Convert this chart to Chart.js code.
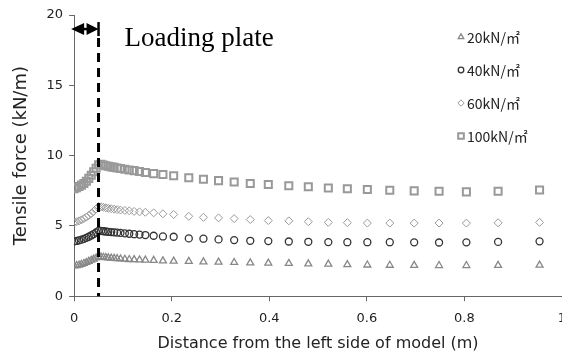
<!DOCTYPE html>
<html>
<head>
<meta charset="utf-8">
<script src="https://cdn.jsdelivr.net/npm/chart.js@4.4.0/dist/chart.umd.min.js"></script>
<style>
  html, body { margin: 0; padding: 0; background: #fff; overflow: hidden; }
  #wrap { width: 562px; height: 362px; position: relative; }
</style>
</head>
<body>
<div id="wrap"><canvas id="chart"></canvas></div>
<script>
// distance from left side of model (m)
const distance = [
  0, 0.005, 0.01, 0.015, 0.02, 0.025, 0.03, 0.035, 0.04, 0.045, 0.05,
  0.055, 0.06, 0.065, 0.07, 0.076, 0.082, 0.088, 0.095, 0.104, 0.113, 0.123, 0.134, 0.146,
  0.163, 0.182, 0.204, 0.235, 0.265, 0.296, 0.328, 0.361, 0.398, 0.44,
  0.48, 0.521, 0.56, 0.601, 0.647, 0.697, 0.748, 0.804, 0.869, 0.954
];

// tensile force (kN/m) for each load
const force20 = [
  2.15, 2.18, 2.22, 2.27, 2.33, 2.4, 2.48, 2.56, 2.64, 2.72, 2.8,
  2.79, 2.77, 2.75, 2.73, 2.71, 2.69, 2.67, 2.65, 2.63, 2.61, 2.6, 2.58, 2.57,
  2.55, 2.51, 2.5, 2.48, 2.44, 2.42, 2.4, 2.37, 2.35, 2.33,
  2.3, 2.28, 2.25, 2.22, 2.2, 2.19, 2.18, 2.18, 2.19, 2.21
];
const force40 = [
  3.9, 3.93, 3.97, 4.02, 4.08, 4.15, 4.23, 4.32, 4.42, 4.53, 4.65,
  4.64, 4.62, 4.6, 4.58, 4.56, 4.54, 4.52, 4.5, 4.47, 4.44, 4.41, 4.38, 4.35,
  4.3, 4.25, 4.23, 4.11, 4.09, 4.04, 3.99, 3.94, 3.92, 3.89,
  3.87, 3.85, 3.84, 3.84, 3.84, 3.83, 3.82, 3.83, 3.86, 3.9
];
const force60 = [
  5.25, 5.3, 5.36, 5.43, 5.52, 5.62, 5.74, 5.88, 6.04, 6.2, 6.38,
  6.36, 6.32, 6.29, 6.25, 6.22, 6.19, 6.16, 6.13, 6.1, 6.07, 6.03, 6.0, 5.97,
  5.93, 5.86, 5.81, 5.68, 5.61, 5.57, 5.52, 5.45, 5.38, 5.36,
  5.3, 5.25, 5.23, 5.2, 5.2, 5.2, 5.2, 5.2, 5.22, 5.25
];
const force100 = [
  7.65, 7.72, 7.8, 7.9, 8.02, 8.18, 8.38, 8.6, 8.85, 9.1, 9.35,
  9.38, 9.33, 9.28, 9.24, 9.2, 9.16, 9.12, 9.08, 9.03, 8.98, 8.93, 8.87, 8.8,
  8.72, 8.65, 8.57, 8.42, 8.32, 8.22, 8.12, 8.02, 7.95, 7.86,
  7.78, 7.7, 7.64, 7.59, 7.54, 7.49, 7.46, 7.42, 7.46, 7.55
];

const loadLabels = ["20kN/㎡", "40kN/㎡", "60kN/㎡", "100kN/㎡"];
const xTicks = [0, 0.2, 0.4, 0.6, 0.8, 1];
const yTicks = [0, 5, 10, 15, 20];

const plateEdge = 0.05;   // end of loading plate (m)
const arrowLevel = 19;    // height of the plate arrow (kN/m)

const toPoints = (ys) => distance.map((x, i) => ({ x: x, y: ys[i] }));

const styles = [
  { pointStyle: "triangle", radius: 4, color: "#888", width: 1.3 },
  { pointStyle: "circle", radius: 3.5, color: "#333", width: 1.3 },
  { pointStyle: "rectRot", radius: 4, color: "#999", width: 1 },
  { pointStyle: "rect", radius: 5, color: "#999", width: 2 },
];
const series = [force20, force40, force60, force100];

const datasets = series.map((ys, i) => ({
  label: loadLabels[i],
  data: toPoints(ys),
  showLine: false,
  pointStyle: styles[i].pointStyle,
  pointRadius: styles[i].radius,
  pointBorderColor: styles[i].color,
  pointBackgroundColor: "rgba(255,255,255,0)",
  pointBorderWidth: styles[i].width,
}));

// loading plate marker + legend drawn on top
const overlay = {
  id: "overlay",
  afterDatasetsDraw(chart) {
    const ctx = chart.ctx;
    const xs = chart.scales.x;
    const ys = chart.scales.y;
    const x0 = xs.getPixelForValue(0);
    const x1 = xs.getPixelForValue(plateEdge);
    const ya = ys.getPixelForValue(arrowLevel);
    const bottom = chart.chartArea.bottom;

    ctx.save();
    // dashed line
    ctx.strokeStyle = "#000";
    ctx.lineWidth = 3;
    ctx.setLineDash([9, 6]);
    ctx.beginPath();
    ctx.moveTo(x1, ya + 9);
    ctx.lineTo(x1, bottom);
    ctx.stroke();
    ctx.setLineDash([]);

    // end bar
    ctx.lineWidth = 2.5;
    ctx.beginPath();
    ctx.moveTo(x1, ya - 7);
    ctx.lineTo(x1, ya + 7);
    ctx.stroke();

    // double arrow
    ctx.lineWidth = 2.5;
    ctx.beginPath();
    ctx.moveTo(x0 + 6, ya);
    ctx.lineTo(x1 - 6, ya);
    ctx.stroke();
    ctx.fillStyle = "#000";
    ctx.beginPath();
    ctx.moveTo(x0 - 3, ya);
    ctx.lineTo(x0 + 10, ya - 6);
    ctx.lineTo(x0 + 10, ya + 6);
    ctx.closePath();
    ctx.fill();
    ctx.beginPath();
    ctx.moveTo(x1, ya);
    ctx.lineTo(x1 - 12, ya - 6);
    ctx.lineTo(x1 - 12, ya + 6);
    ctx.closePath();
    ctx.fill();

    ctx.font = "27px 'Liberation Serif', 'DejaVu Serif', serif";
    ctx.textBaseline = "alphabetic";
    ctx.fillText("Loading plate", x1 + 26, ya + 17);

    // legend
    ctx.font = "14px 'Noto Sans CJK JP', 'DejaVu Sans', sans-serif";
    ctx.textBaseline = "middle";
    chart.data.datasets.forEach((ds, i) => {
      const ly = 37 + i * 33;
      ctx.strokeStyle = ds.pointBorderColor;
      ctx.fillStyle = "rgba(255,255,255,0)";
      ctx.lineWidth = ds.pointBorderWidth;
      Chart.helpers.drawPoint(ctx, {
        pointStyle: ds.pointStyle,
        radius: ds.pointRadius * 0.8,
        borderWidth: ds.pointBorderWidth,
        rotation: 0,
      }, 461, ly);
      ctx.fillStyle = "#222";
      ctx.fillText(ds.label, 467, ly + 1);
    });
    ctx.restore();
  },
};

new Chart(document.getElementById("chart"), {
  type: "scatter",
  data: { datasets: datasets },
  options: {
    responsive: true,
    maintainAspectRatio: false,
    animation: false,
    layout: { autoPadding: false, padding: { left: 11, top: 15, right: 0, bottom: 9 } },
    plugins: {
      legend: { display: false },
      tooltip: { enabled: false },
    },
    scales: {
      x: {
        type: "linear",
        min: 0,
        max: 1,
        afterBuildTicks: (s) => { s.ticks = xTicks.map((v) => ({ value: v })); },
        afterFit: (s) => { s.paddingRight = 0; },
        grid: { drawOnChartArea: false, drawTicks: true, tickLength: 5, color: "#666" },
        border: { color: "#666", width: 1 },
        ticks: {
          color: "#222",
          padding: 10,
          maxRotation: 0,
          font: { size: 13, family: "'DejaVu Sans', sans-serif" },
          callback: (v) => String(v),
        },
        title: {
          display: true,
          text: "Distance from the left side of model (m)",
          color: "#222",
          font: { size: 16, family: "'DejaVu Sans', sans-serif" },
          padding: { top: -3, bottom: 0 },
        },
      },
      y: {
        min: 0,
        max: 20,
        afterBuildTicks: (s) => { s.ticks = yTicks.map((v) => ({ value: v })); },
        grid: { drawOnChartArea: false, drawTicks: true, tickLength: 5, color: "#666" },
        border: { color: "#666", width: 1 },
        ticks: {
          color: "#222",
          padding: 6,
          font: { size: 13, family: "'DejaVu Sans', sans-serif" },
        },
        title: {
          display: true,
          text: "Tensile force (kN/m)",
          color: "#222",
          font: { size: 18, family: "'DejaVu Sans', sans-serif" },
          padding: { top: 0, bottom: 8 },
        },
      },
    },
  },
  plugins: [overlay],
});
</script>
</body>
</html>
